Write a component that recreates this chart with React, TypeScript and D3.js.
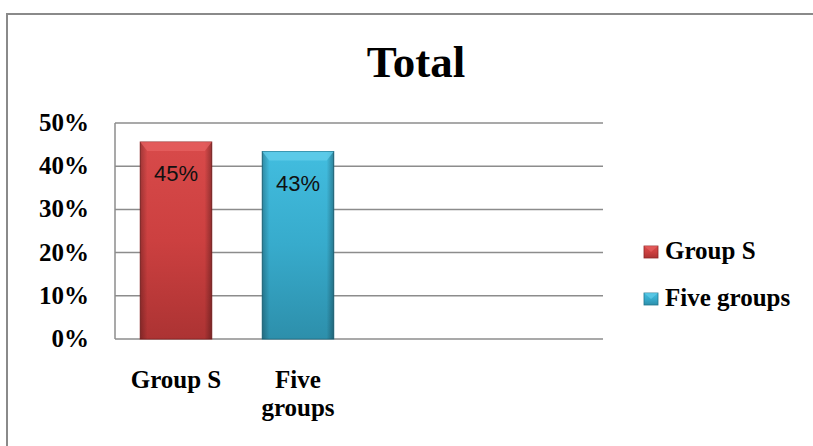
import React, { useEffect, useRef } from 'react';
import * as d3 from 'd3';

// chart data
const categories: string[][] = [["Group S"], ["Five", "groups"]];
const seriesNames = ["Group S", "Five groups"];
const values = [0.456, 0.434];
const valueLabels = ["45%", "43%"];
const yTicks = [0, 0.1, 0.2, 0.3, 0.4, 0.5];
const slotCount = 4;

const palette = [
  { top: "#d84a4a", mid: "#cc4040", bottom: "#ac3333", edge: "#8f2626", light: "#e66060" },
  { top: "#42bddf", mid: "#37abcc", bottom: "#2d8fab", edge: "#22758d", light: "#62cdea" },
];

const App = () => {
  const chartRef = useRef<SVGSVGElement>(null);

  useEffect(() => {
    if (chartRef.current) createChart();
  }, []);

  const createChart = () => {
    const svg = d3.select(chartRef.current);
    svg.selectAll("*").remove();

    const W = 813, H = 446;
    const plot = { left: 115, right: 603, top: 123, bottom: 339 };
    const serif = "'Liberation Serif', 'Times New Roman', serif";

    const defs = svg.append("defs");
    palette.forEach((p, i) => {
      const g = defs.append("linearGradient").attr("id", `vg${i}`)
        .attr("x1", 0).attr("y1", 0).attr("x2", 0).attr("y2", 1);
      g.append("stop").attr("offset", "0%").attr("stop-color", p.top);
      g.append("stop").attr("offset", "50%").attr("stop-color", p.mid);
      g.append("stop").attr("offset", "100%").attr("stop-color", p.bottom);
      const h = defs.append("linearGradient").attr("id", `hg${i}`)
        .attr("x1", 0).attr("y1", 0).attr("x2", 1).attr("y2", 0);
      h.append("stop").attr("offset", "0%").attr("stop-color", "#000").attr("stop-opacity", 0.25);
      h.append("stop").attr("offset", "10%").attr("stop-color", "#000").attr("stop-opacity", 0);
      h.append("stop").attr("offset", "90%").attr("stop-color", "#000").attr("stop-opacity", 0);
      h.append("stop").attr("offset", "100%").attr("stop-color", "#000").attr("stop-opacity", 0.3);
    });

    svg.append("rect").attr("width", W).attr("height", H).attr("fill", "#fff");

    // outer frame (right and bottom edges fall outside the picture)
    svg.append("rect")
      .attr("x", 7).attr("y", 14).attr("width", 830).attr("height", 460)
      .attr("fill", "none").attr("stroke", "#8a8a8a").attr("stroke-width", 2);

    const x = d3.scaleBand<number>()
      .domain(d3.range(slotCount))
      .range([plot.left, plot.right])
      .paddingInner(0.414)
      .paddingOuter(0.207);

    const y = d3.scaleLinear().domain([0, 0.5]).range([plot.bottom, plot.top]);

    // gridlines
    svg.append("g").selectAll("line")
      .data(yTicks)
      .enter().append("line")
      .attr("x1", plot.left).attr("x2", plot.right)
      .attr("y1", d => y(d)).attr("y2", d => y(d))
      .attr("stroke", "#8c8c8c").attr("stroke-width", 1.5);

    svg.append("line")
      .attr("x1", plot.left).attr("x2", plot.left)
      .attr("y1", plot.top).attr("y2", plot.bottom)
      .attr("stroke", "#8c8c8c").attr("stroke-width", 1.5);

    // y tick labels
    svg.append("g").selectAll("text")
      .data(yTicks)
      .enter().append("text")
      .attr("x", 89).attr("y", d => y(d) + 8)
      .attr("text-anchor", "end")
      .style("font-family", serif).style("font-weight", "bold").style("font-size", "25px")
      .text(d => d3.format(".0%")(d));

    // bars
    const bars = svg.append("g").selectAll("g")
      .data(values)
      .enter().append("g");

    bars.append("rect")
      .attr("x", (d, i) => x(i) || 0)
      .attr("y", d => y(d))
      .attr("width", x.bandwidth())
      .attr("height", d => y(0) - y(d))
      .attr("fill", (d, i) => `url(#vg${i})`)
      .attr("stroke", (d, i) => palette[i].edge).attr("stroke-width", 1);

    bars.append("rect")
      .attr("x", (d, i) => x(i) || 0)
      .attr("y", d => y(d))
      .attr("width", x.bandwidth())
      .attr("height", d => y(0) - y(d))
      .attr("fill", (d, i) => `url(#hg${i})`);

    // top bevel
    bars.append("path")
      .attr("d", (d, i) => {
        const x0 = x(i) || 0, x1 = x0 + x.bandwidth(), t = y(d);
        return `M${x0},${t}L${x1},${t}L${x1 - 7},${t + 9}L${x0 + 7},${t + 9}Z`;
      })
      .attr("fill", (d, i) => palette[i].light).attr("opacity", 0.8);

    // value labels
    bars.append("text")
      .attr("x", (d, i) => (x(i) || 0) + x.bandwidth() / 2)
      .attr("y", d => y(d) + 39)
      .attr("text-anchor", "middle")
      .style("font-family", "'Liberation Sans', Arial, sans-serif").style("font-size", "22px")
      .attr("fill", "#111")
      .text((d, i) => valueLabels[i]);

    // category labels
    const cat = svg.append("g").selectAll("text")
      .data(categories)
      .enter().append("text")
      .attr("x", (d, i) => (x(i) || 0) + x.bandwidth() / 2)
      .attr("y", 388)
      .attr("text-anchor", "middle")
      .style("font-family", serif).style("font-weight", "bold").style("font-size", "25px");
    cat.selectAll("tspan")
      .data((d, i) => d.map(line => ({ line, i })))
      .enter().append("tspan")
      .attr("x", d => (x(d.i) || 0) + x.bandwidth() / 2)
      .attr("dy", (d, j) => (j === 0 ? 0 : 28))
      .text(d => d.line);

    // title
    svg.append("text")
      .attr("x", 416).attr("y", 77)
      .attr("text-anchor", "middle")
      .style("font-family", serif).style("font-weight", "bold").style("font-size", "45px")
      .text("Total");

    // legend
    const legend = svg.append("g").selectAll("g")
      .data(seriesNames)
      .enter().append("g")
      .attr("transform", (d, i) => `translate(644,${246 + i * 47})`);
    legend.append("rect")
      .attr("width", 14).attr("height", 12)
      .attr("fill", (d, i) => `url(#vg${i})`)
      .attr("stroke", (d, i) => palette[i].edge).attr("stroke-width", 0.8);
    legend.append("path")
      .attr("d", "M0,0L14,0L7,6Z")
      .attr("fill", (d, i) => palette[i].light).attr("opacity", 0.7);
    legend.append("text")
      .attr("x", 21).attr("y", 13)
      .style("font-family", serif).style("font-weight", "bold").style("font-size", "25px")
      .text(d => d);
  };

  return (
    <svg
      ref={chartRef}
      width={813}
      height={446}
      style={{ position: 'absolute', left: 0, top: 0, display: 'block' }}
    />
  );
};

export default App;
